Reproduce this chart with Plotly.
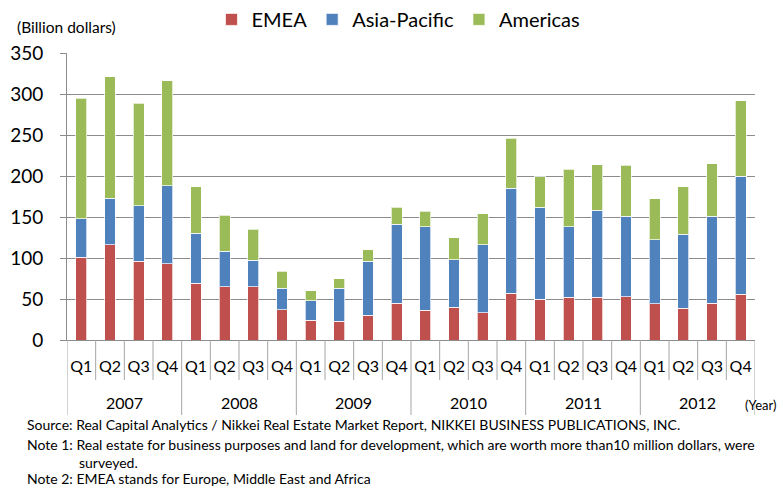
import plotly.graph_objects as go

years = ["2007"] * 4 + ["2008"] * 4 + ["2009"] * 4 + ["2010"] * 4 + ["2011"] * 4 + ["2012"] * 4
quarters = ["Q1", "Q2", "Q3", "Q4"] * 6

emea = [101, 116, 96, 93, 69, 65, 65, 37, 24, 23, 30, 45, 36, 40, 33, 57, 50, 52, 52, 53, 44, 39, 45, 56]
asia_pacific = [47, 57, 68, 95, 61, 43, 32, 26, 24, 40, 66, 96, 102, 58, 83, 128, 112, 86, 106, 98, 78, 90, 106, 144]
americas = [147, 148, 125, 128, 57, 44, 38, 21, 12, 12, 14, 21, 19, 27, 38, 61, 37, 70, 56, 62, 50, 58, 64, 92]

y_ticks = [0, 50, 100, 150, 200, 250, 300, 350]

FONT = "Lato"
cats = [f"{y} {q}" for y, q in zip(years, quarters)]

fig = go.Figure()
for name, vals, col in [("EMEA", emea, "#C0504D"),
                        ("Asia-Pacific", asia_pacific, "#4F81BD"),
                        ("Americas", americas, "#9BBB59")]:
    fig.add_trace(go.Bar(x=cats, y=vals, name=name,
                         marker=dict(color=col, line=dict(color="rgba(255,255,255,0.7)", width=1))))

H = 287.0  # plot height in px (for paper conversions)
fig.update_layout(
    width=783, height=489,
    barmode="stack", bargap=0.62,
    plot_bgcolor="white", paper_bgcolor="white",
    margin=dict(l=67, r=28, t=53, b=149, autoexpand=False),
    font=dict(family=FONT, color="black"),
    legend=dict(orientation="h", x=0.21, y=1.185, xanchor="left", yanchor="top",
                font=dict(size=20, family=FONT), itemwidth=30, traceorder="normal",
                bgcolor="rgba(0,0,0,0)"),
    showlegend=True,
)
fig.update_yaxes(range=[0, 350], tickvals=y_ticks, showgrid=True, gridcolor="#8C8C8C", gridwidth=1,
                 showline=True, linecolor="#8C8C8C", linewidth=1, ticks="outside", ticklen=6,
                 tickcolor="#8C8C8C", tickfont=dict(size=19, family=FONT), zeroline=False,
                 ticklabelstandoff=13)
fig.update_xaxes(type="category", categoryorder="array", categoryarray=cats,
                 range=[-0.5, len(cats) - 0.5],
                 showline=True, linecolor="#8C8C8C", linewidth=1,
                 ticks="", tickvals=cats, ticktext=quarters, tickangle=0,
                 ticklabelstandoff=12,
                 tickfont=dict(size=16, family=FONT), showgrid=False)

# quarter dividers and year dividers below the axis
for i in range(len(cats) + 1):
    is_year = (i % 4 == 0)
    fig.add_shape(type="line", xref="x", yref="paper", x0=i - 0.5, x1=i - 0.5,
                  y0=0, y1=(-75 if is_year else -40) / H,
                  line=dict(color="#A6A6A6", width=1))

# year labels
for k, yr in enumerate(dict.fromkeys(years)):
    idx = [i for i, y in enumerate(years) if y == yr]
    fig.add_annotation(text=yr, xref="x", yref="paper", x=(idx[0] + idx[-1]) / 2, y=-62 / H,
                       xanchor="center", yanchor="middle", showarrow=False,
                       font=dict(size=16, family=FONT))

fig.add_annotation(text="(Billion dollars)", xref="paper", yref="paper", x=-0.0756, y=1.09,
                   xanchor="left", yanchor="middle", showarrow=False, font=dict(size=15.5, family=FONT))
fig.add_annotation(text="(Year)", xref="paper", yref="paper", x=0.983, y=-0.226,
                   xanchor="left", yanchor="middle", showarrow=False, font=dict(size=13, family=FONT))

notes = [
    ("Source: Real Capital Analytics / Nikkei Real Estate Market Report, NIKKEI BUSINESS PUBLICATIONS, INC.", 25, 424),
    ("Note 1: Real estate for business purposes and land for development, which are worth more than10 million dollars, were", 25, 445),
    ("surveyed.", 77, 462),
    ("Note 2: EMEA stands for Europe, Middle East and Africa", 25, 478),
]
for txt, px, py in notes:
    fig.add_annotation(text=txt, xref="paper", yref="paper", x=(px - 67) / 688, y=(340 - py) / H,
                       xanchor="left", yanchor="middle", showarrow=False,
                       font=dict(size=14, family=FONT))

fig.write_html("out.html", config={"displayModeBar": False},
               post_script="document.body.style.margin='0';document.body.style.overflow='hidden';")
